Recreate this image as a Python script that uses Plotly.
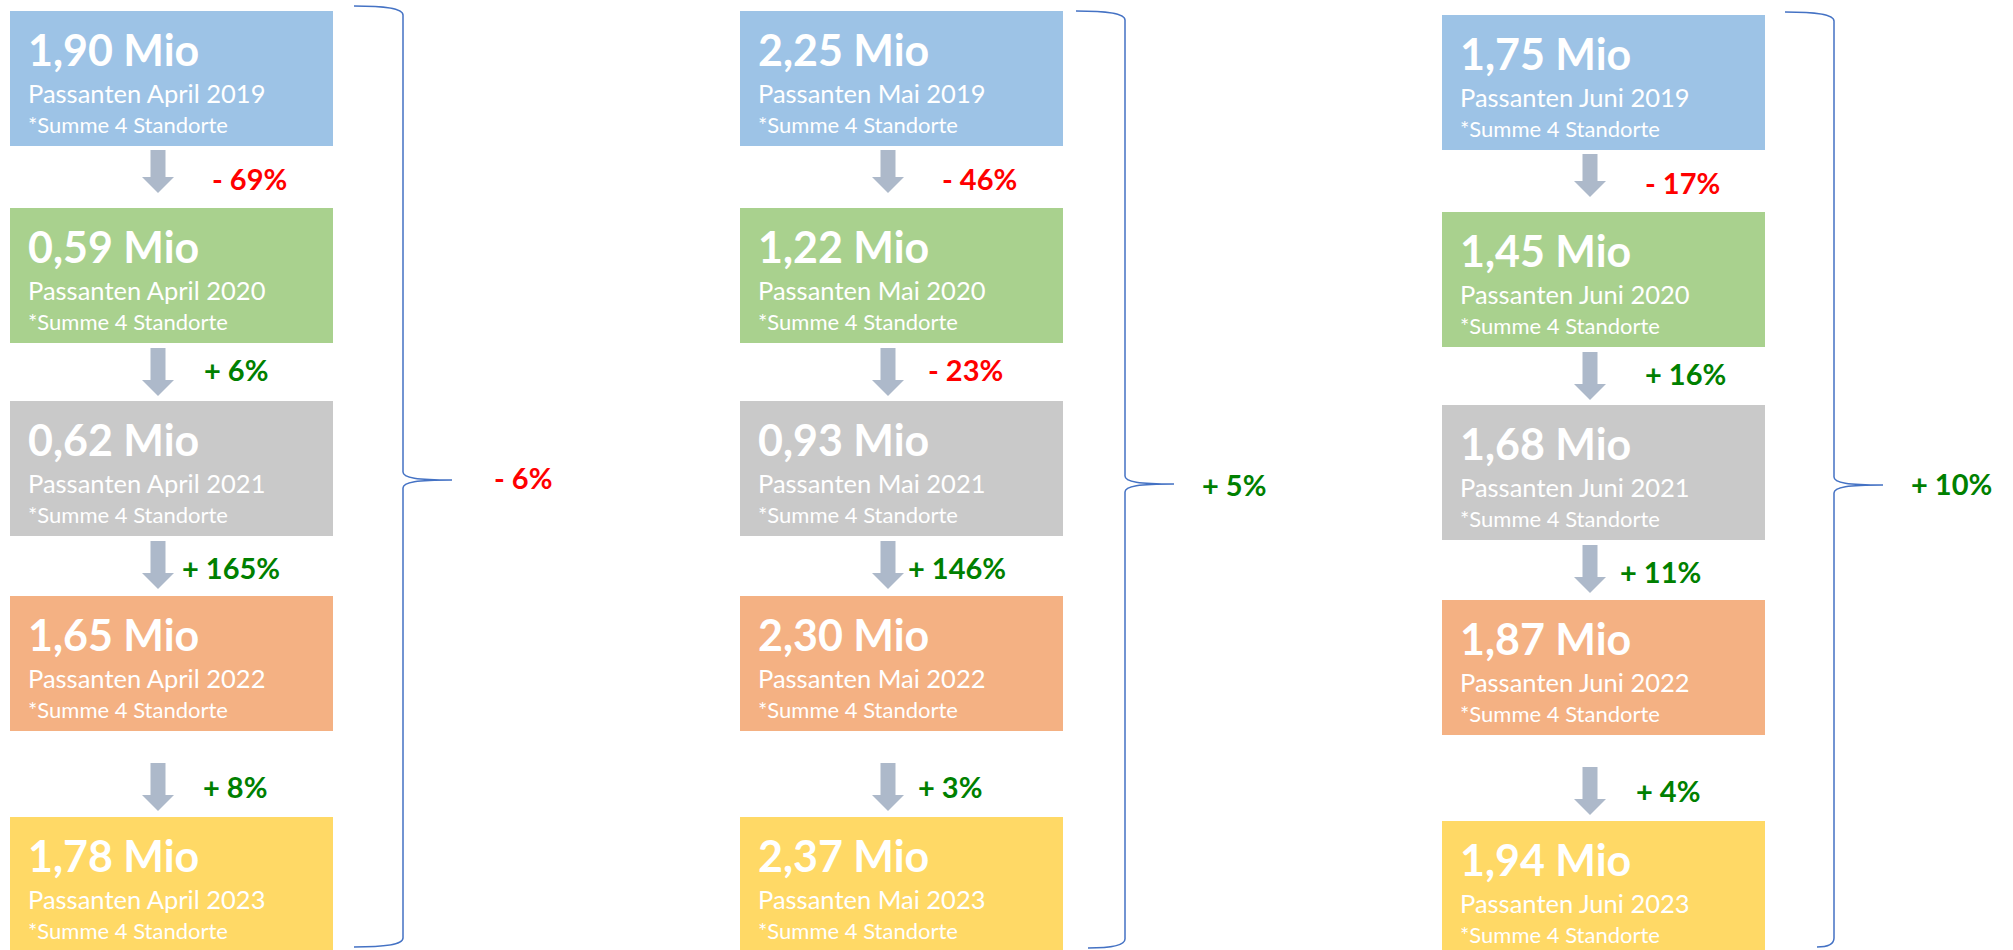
import plotly.graph_objects as go

# ---------------- data ----------------
months = ["April", "Mai", "Juni"]
years = ["2019", "2020", "2021", "2022", "2023"]
passanten_april = [1.90, 0.59, 0.62, 1.65, 1.78]
passanten_mai = [2.25, 1.22, 0.93, 2.30, 2.37]
passanten_juni = [1.75, 1.45, 1.68, 1.87, 1.94]
change_april = [-69, 6, 165, 8]
change_mai = [-46, -23, 146, 3]
change_juni = [-17, 16, 11, 4]
change_total = [-6, 5, 10]
footnote = "*Summe 4 Standorte"

values = [passanten_april, passanten_mai, passanten_juni]
changes = [change_april, change_mai, change_juni]

# ---------------- layout constants ----------------
W, H = 2013, 950
col_left = [10, 740, 1442]
col_dy = [0, 0, 4]
box_w, box_h = 323, 135
row_top = [11, 208, 401, 596, 817]
arrow_rows = [(150, 193), (348, 396), (541, 589), (763, 811)]
arrow_cx = 148
text_dx = 16
label_cx = [[239.5, 225.5, 220.5, 225], [239.5, 225.5, 216.5, 210], [240.5, 243, 218, 225.5]]
label_y = [178, 369, 567, 786]
braces = [
    dict(xt=354, yt=6, xb=354, yb=947, xv=403, xp=452, yp=480, lx=523, ly=477),
    dict(xt=1076, yt=11, xb=1088, yb=948, xv=1125, xp=1174, yp=484, lx=1234, ly=484),
    dict(xt=1785, yt=12, xb=1817, yb=947, xv=1834, xp=1883, yp=485, lx=1951, ly=483),
]
box_colors = ["#9DC3E6", "#A9D18E", "#C9C9C9", "#F4B183", "#FFD966"]
arrow_color = "#ADB9CA"
brace_color = "#4472C4"
red, green = "#FF0000", "#008000"
FONT = "Lato"


def fmt_mio(v):
    return f"{v:.2f}".replace(".", ",") + " Mio"


def fmt_pct(p):
    return ("- " if p < 0 else "+ ") + f"{abs(p)}%"


shapes = []
annotations = []

for c, month in enumerate(months):
    x0 = col_left[c]
    dy = col_dy[c]
    for r, year in enumerate(years):
        top = row_top[r] + dy
        shapes.append(dict(type="rect", xref="x", yref="y", x0=x0, x1=x0 + box_w,
                           y0=top, y1=top + box_h, fillcolor=box_colors[r],
                           line=dict(width=0), layer="below"))
        annotations.append(dict(x=x0 + text_dx, y=top + 38, xref="x", yref="y",
                                text="<b>" + fmt_mio(values[c][r]) + "</b>",
                                showarrow=False, xanchor="left", yanchor="middle",
                                font=dict(family=FONT, size=43, color="white")))
        annotations.append(dict(x=x0 + text_dx, y=top + 82, xref="x", yref="y",
                                text=f"Passanten {month} {year}",
                                showarrow=False, xanchor="left", yanchor="middle",
                                font=dict(family=FONT, size=25.5, color="white")))
        annotations.append(dict(x=x0 + text_dx, y=top + 113.5, xref="x", yref="y",
                                text=footnote,
                                showarrow=False, xanchor="left", yanchor="middle",
                                font=dict(family=FONT, size=22, color="white")))
    # arrows + change labels
    cx = x0 + arrow_cx
    for r, p in enumerate(changes[c]):
        t, b = arrow_rows[r]
        t += dy
        b += dy
        hs = b - 16
        path = (f"M {cx-7.5},{t} L {cx+7.5},{t} L {cx+7.5},{hs} L {cx+16},{hs} "
                f"L {cx},{b} L {cx-16},{hs} L {cx-7.5},{hs} Z")
        shapes.append(dict(type="path", xref="x", yref="y", path=path,
                           fillcolor=arrow_color, line=dict(width=0)))
        annotations.append(dict(x=x0 + label_cx[c][r], y=label_y[r] + dy, xref="x", yref="y",
                                text="<b>" + fmt_pct(p) + "</b>", showarrow=False,
                                xanchor="center", yanchor="middle",
                                font=dict(family=FONT, size=29, color=red if p < 0 else green)))
    # brace + total change
    bdef = braces[c]
    xt, yt, xb, yb = bdef["xt"], bdef["yt"], bdef["xb"], bdef["yb"]
    xv, xp, yp = bdef["xv"], bdef["xp"], bdef["yp"]
    path = (f"M {xt},{yt} C {xt + (xv-xt)*0.6},{yt} {xv},{yt+2} {xv},{yt+9} "
            f"L {xv},{yp-8} C {xv},{yp-2} {xv+14},{yp} {xp},{yp} "
            f"C {xv+14},{yp} {xv},{yp+2} {xv},{yp+8} "
            f"L {xv},{yb-9} C {xv},{yb-2} {xb + (xv-xb)*0.6},{yb} {xb},{yb}")
    shapes.append(dict(type="path", xref="x", yref="y", path=path,
                       line=dict(color=brace_color, width=1.5)))
    p = change_total[c]
    annotations.append(dict(x=bdef["lx"], y=bdef["ly"], xref="x", yref="y",
                            text="<b>" + fmt_pct(p) + "</b>", showarrow=False,
                            xanchor="center", yanchor="middle",
                            font=dict(family=FONT, size=29, color=red if p < 0 else green)))

fig = go.Figure()
fig.update_layout(
    width=W, height=H, autosize=False,
    margin=dict(l=0, r=0, t=0, b=0, pad=0),
    paper_bgcolor="white", plot_bgcolor="white",
    xaxis=dict(range=[0, W], visible=False, fixedrange=True),
    yaxis=dict(range=[H, 0], visible=False, fixedrange=True),
    shapes=shapes, annotations=annotations, showlegend=False,
)
fig.write_html("out.html", config={"displayModeBar": False},
               post_script="document.body.style.margin='0';document.body.style.overflow='hidden';")
